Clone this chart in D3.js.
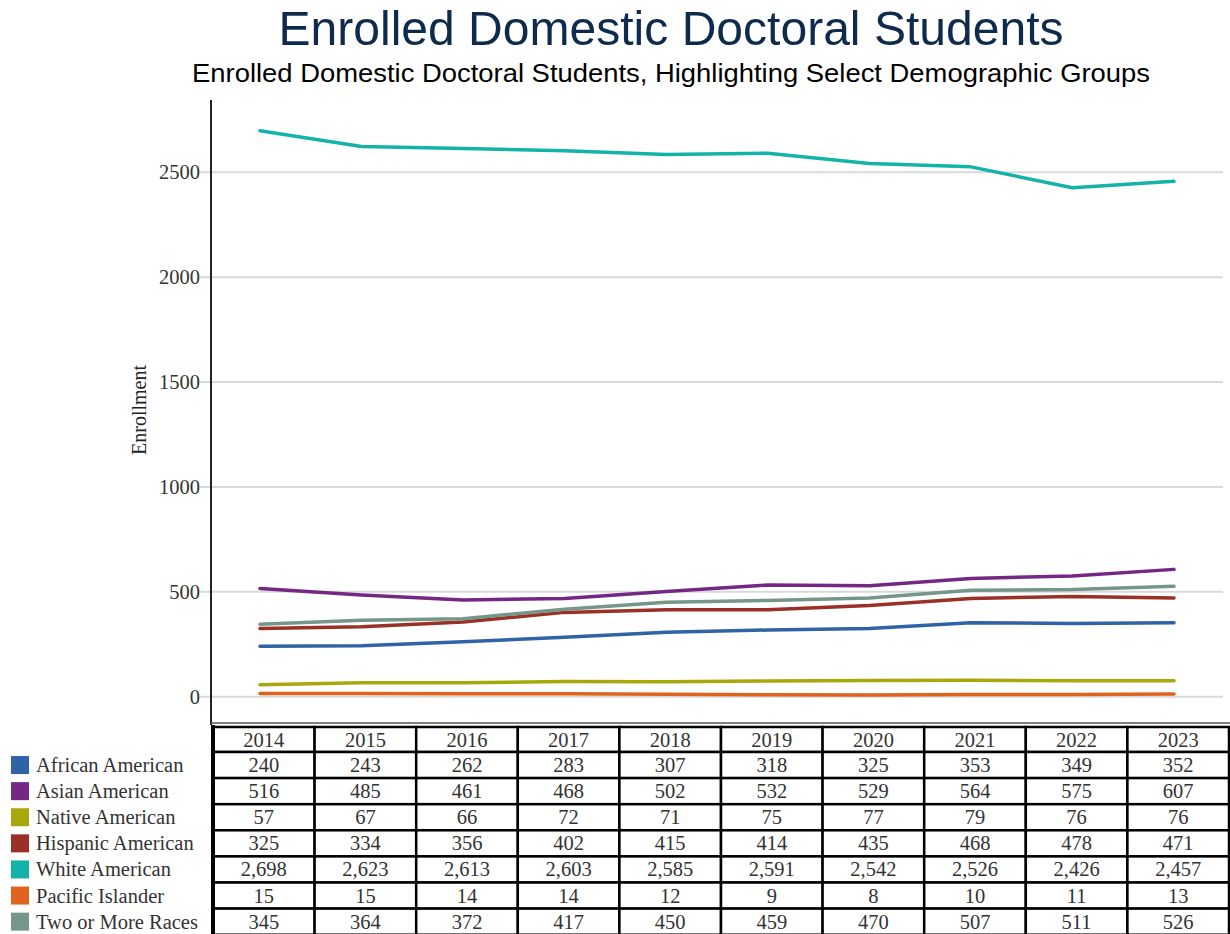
<!DOCTYPE html>
<html><head><meta charset="utf-8">
<script src="https://cdn.jsdelivr.net/npm/d3@7"></script>
<style>body{margin:0;background:#fff;}svg{display:block;}</style>
</head><body>
<svg id="c" width="1230" height="934"></svg>
<script>
const years = [2014,2015,2016,2017,2018,2019,2020,2021,2022,2023];
const seriesNames = ["African American","Asian American","Native American","Hispanic American","White American","Pacific Islander","Two or More Races"];
const africanAmerican = [240,243,262,283,307,318,325,353,349,352];
const asianAmerican = [516,485,461,468,502,532,529,564,575,607];
const nativeAmerican = [57,67,66,72,71,75,77,79,76,76];
const hispanicAmerican = [325,334,356,402,415,414,435,468,478,471];
const whiteAmerican = [2698,2623,2613,2603,2585,2591,2542,2526,2426,2457];
const pacificIslander = [15,15,14,14,12,9,8,10,11,13];
const twoOrMore = [345,364,372,417,450,459,470,507,511,526];
const yTicks = [0,500,1000,1500,2000,2500];
const colors = ["#2f63a6","#742785","#a8a80c","#9a3127","#14b3aa","#e0621c","#74978a"];
const allValues = [africanAmerican,asianAmerican,nativeAmerican,hispanicAmerican,whiteAmerican,pacificIslander,twoOrMore];

const svg = d3.select("#c");
const serif = "'Liberation Serif','Times New Roman',serif";
const sans = "'Liberation Sans',Arial,sans-serif";

svg.append("text").attr("x",671).attr("y",45).attr("text-anchor","middle")
  .attr("font-family",sans).attr("font-size",48).attr("fill","#0e2b4d")
  .attr("textLength",785).attr("lengthAdjust","spacingAndGlyphs")
  .text("Enrolled Domestic Doctoral Students");
svg.append("text").attr("x",671).attr("y",82).attr("text-anchor","middle")
  .attr("font-family",sans).attr("font-size",25).attr("fill","#000")
  .attr("textLength",958).attr("lengthAdjust","spacingAndGlyphs")
  .text("Enrolled Domestic Doctoral Students, Highlighting Select Demographic Groups");

const y = d3.scaleLinear().domain([0,2500]).range([696.7,172.3]);
const x = d3.scalePoint().domain(years).range([260,1174]);

// grid
svg.append("g").selectAll("line").data(yTicks).join("line")
  .attr("x1",200).attr("x2",1223).attr("y1",d=>y(d)).attr("y2",d=>y(d))
  .attr("stroke","#d9d9d9").attr("stroke-width",2);
svg.append("g").selectAll("text").data(yTicks).join("text")
  .attr("x",200).attr("y",d=>y(d)+7).attr("text-anchor","end")
  .attr("font-family",serif).attr("font-size",20.5).attr("fill","#333").text(d=>d);
svg.append("text").attr("transform","translate(146,410) rotate(-90)").attr("text-anchor","middle")
  .attr("font-family",serif).attr("font-size",20).attr("fill","#222").text("Enrollment");

// axis lines
svg.append("line").attr("x1",211).attr("x2",211).attr("y1",100).attr("y2",725).attr("stroke","#222").attr("stroke-width",2);
svg.append("line").attr("x1",211).attr("x2",1230).attr("y1",723).attr("y2",723).attr("stroke","#555").attr("stroke-width",1.5);

// lines
const line = d3.line().x((d,i)=>x(years[i])).y(d=>y(d)).curve(d3.curveLinear);
const order = [4,5,2,0,3,6,1];
svg.append("g").selectAll("path").data(order).join("path")
  .attr("d",k=>line(allValues[k])).attr("fill","none")
  .attr("stroke",k=>colors[k]).attr("stroke-width",3.5)
  .attr("stroke-linecap","round").attr("stroke-linejoin","round");

// table
const tx = d3.scaleBand().domain(years).range([213,1229]);
const rowTop = 727, headerH = 25, rowH = 26.1;
const rowY = i => i<0 ? rowTop : rowTop+headerH+i*rowH;
const tg = svg.append("g");
const fs = 20.5;
tg.selectAll("rect.h").data(years).join("rect").attr("class","h")
  .attr("x",d=>tx(d)).attr("y",rowTop).attr("width",tx.bandwidth()).attr("height",headerH)
  .attr("fill","#fff").attr("stroke","#000").attr("stroke-width",2.5);
tg.selectAll("text.h").data(years).join("text").attr("class","h")
  .attr("x",d=>tx(d)+tx.bandwidth()/2).attr("y",rowTop+headerH/2+7).attr("text-anchor","middle")
  .attr("font-family",serif).attr("font-size",fs).attr("fill","#333").text(d=>d);
const fmt = d3.format(",");
allValues.forEach((vals,k)=>{
  const g = tg.append("g");
  g.selectAll("rect").data(vals).join("rect")
    .attr("x",(d,i)=>tx(years[i])).attr("y",rowY(k)).attr("width",tx.bandwidth()).attr("height",rowH)
    .attr("fill","#fff").attr("stroke","#000").attr("stroke-width",2.5);
  g.selectAll("text").data(vals).join("text")
    .attr("x",(d,i)=>tx(years[i])+tx.bandwidth()/2).attr("y",rowY(k)+rowH/2+7).attr("text-anchor","middle")
    .attr("font-family",serif).attr("font-size",fs).attr("fill","#333").text(d=>fmt(d));
  svg.append("rect").attr("x",11).attr("y",rowY(k)+rowH/2-9).attr("width",18).attr("height",18).attr("fill",colors[k]);
  svg.append("text").attr("x",36).attr("y",rowY(k)+rowH/2+7).attr("font-family",serif).attr("font-size",fs)
    .attr("fill","#333").text(seriesNames[k]);
});
tg.append("line").attr("x1",213).attr("x2",213).attr("y1",725).attr("y2",934).attr("stroke","#000").attr("stroke-width",4);
</script>
</body></html>
